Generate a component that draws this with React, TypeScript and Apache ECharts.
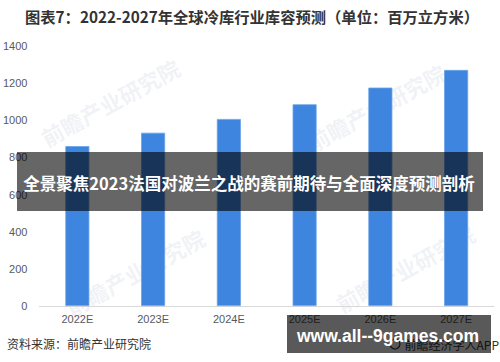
import React, { useEffect, useRef } from "react";
import * as echarts from "echarts";

const categories = ["2022E", "2023E", "2024E", "2025E", "2026E", "2027E"];
const capacity = [861, 933, 1007, 1086, 1176, 1271];
const yTicks = { min: 0, max: 1400, interval: 200 };
const titleText = "图表7：2022-2027年全球冷库行业库容预测（单位：百万立方米）";
const sourceText = "资料来源：前瞻产业研究院";
const appText = "前瞻经济学人APP";
const bannerText = "全景聚焦2023法国对波兰之战的赛前期待与全面深度预测剖析";
const siteText = "www.all--9games.com";
const watermarkText = "前瞻产业研究院";

const CJK = '"Noto Sans CJK SC", "Noto Sans", sans-serif';

export default function App() {
  const ref = useRef<HTMLDivElement>(null);
  useEffect(() => {
    if (!ref.current) return;
    const chart = echarts.init(ref.current, null, { renderer: "svg" });
    const wm = (x: number, y: number) => ({
      type: "text",
      x,
      y,
      rotation: 0.5,
      z: 0,
      silent: true,
      style: {
        text: watermarkText,
        font: `bold 22px ${CJK}`,
        fill: "rgba(190,200,218,0.22)",
        textAlign: "center",
        textVerticalAlign: "middle",
      },
    });
    chart.setOption({
      animation: false,
      backgroundColor: "#ffffff",
      grid: { left: 39, right: 6, top: 46, bottom: 56, containLabel: false },
      xAxis: {
        type: "category",
        data: categories,
        axisLine: { show: true, lineStyle: { color: "#d9d9d9", width: 1 } },
        axisTick: { show: false },
        axisLabel: { color: "#595959", fontSize: 11, margin: 7, fontFamily: "Liberation Sans, sans-serif" },
      },
      yAxis: {
        type: "value",
        min: yTicks.min,
        max: yTicks.max,
        interval: yTicks.interval,
        axisLine: { show: false },
        axisTick: { show: false },
        splitLine: { show: false },
        axisLabel: {
          color: "#595959",
          fontSize: 11,
          margin: 12,
          fontFamily: "Liberation Sans, sans-serif",
          formatter: (v: number) => String(v),
        },
      },
      series: [
        {
          type: "bar",
          data: capacity,
          barWidth: 24,
          z: 2,
          itemStyle: { color: "#3d85df", borderColor: "#6aa2e8", borderWidth: 0.8 },
        },
      ],
      graphic: [
        wm(110, 102),
        wm(376, 107),
        wm(135, 272),
        wm(405, 268),
        {
          type: "text",
          x: 25,
          y: 16,
          z: 10,
          style: {
            text: titleText,
            font: `bold 15.3px ${CJK}`,
            fill: "#333333",
            textVerticalAlign: "middle",
          },
        },
        {
          type: "text",
          x: 7,
          y: 343,
          z: 10,
          style: {
            text: sourceText,
            font: `12px ${CJK}`,
            fill: "#333333",
            textVerticalAlign: "middle",
          },
        },
        {
          type: "circle",
          z: 10,
          shape: { cx: 395, cy: 344, r: 5 },
          style: { fill: "none", stroke: "#333333", lineWidth: 1.2 },
        },
        {
          type: "text",
          x: 499,
          y: 344,
          z: 10,
          style: {
            text: appText,
            font: `12px ${CJK}`,
            fill: "#333333",
            textAlign: "right",
            textVerticalAlign: "middle",
          },
        },
        {
          type: "rect",
          z: 100,
          shape: { x: 17, y: 152, width: 466, height: 59 },
          style: { fill: "rgba(0,0,0,0.6)" },
        },
        {
          type: "text",
          x: 249,
          y: 183,
          z: 101,
          style: {
            text: bannerText,
            font: `bold 16.5px ${CJK}`,
            fill: "#ffffff",
            textAlign: "center",
            textVerticalAlign: "middle",
          },
        },
        {
          type: "rect",
          z: 100,
          shape: { x: 287, y: 315, width: 204, height: 38 },
          style: { fill: "rgba(0,0,0,0.65)" },
        },
        {
          type: "text",
          x: 388,
          y: 336,
          z: 101,
          style: {
            text: siteText,
            font: `bold 17.5px "Liberation Sans", Arial, sans-serif`,
            fill: "#ffffff",
            textAlign: "center",
            textVerticalAlign: "middle",
          },
        },
      ],
    });
    return () => chart.dispose();
  }, []);
  return (
    <div
      ref={ref}
      style={{ position: "absolute", left: 0, top: 0, width: 500, height: 362 }}
    />
  );
}
